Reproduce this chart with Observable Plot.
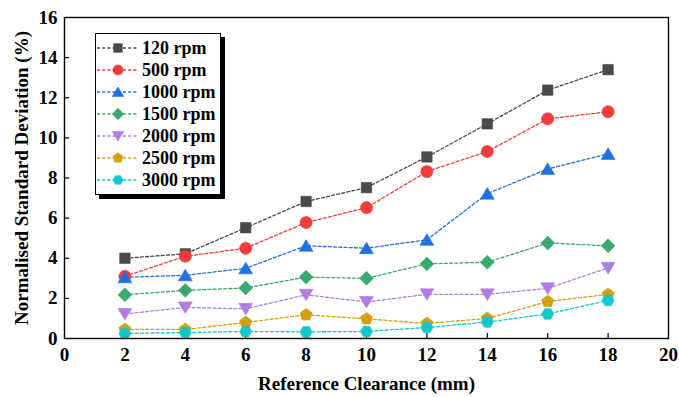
<!DOCTYPE html>
<html><head><meta charset="utf-8">
<script src="https://cdn.jsdelivr.net/npm/d3@7"></script>
<script src="https://cdn.jsdelivr.net/npm/@observablehq/plot@0.6"></script>
<style>
body{margin:0;background:#fff;}
#wrap{position:relative;width:679px;height:397px;}
#legend{position:absolute;left:95px;top:33px;width:124px;height:160px;border:1.5px solid #000;background:#fff;box-shadow:4px 4px 0 #000;}
#legend svg{display:block;}
</style>
</head><body>
<div id="wrap"><div id="legend"></div></div>
<script>
// ---- data ----
const clearance = [2, 4, 6, 8, 10, 12, 14, 16, 18];
const seriesNames = ["120 rpm", "500 rpm", "1000 rpm", "1500 rpm", "2000 rpm", "2500 rpm", "3000 rpm"];
const rpm120  = [4.0, 4.22, 5.52, 6.83, 7.52, 9.05, 10.7, 12.38, 13.4];
const rpm500  = [3.1, 4.1, 4.5, 5.78, 6.52, 8.32, 9.32, 10.95, 11.3];
const rpm1000 = [3.05, 3.15, 3.5, 4.62, 4.5, 4.92, 7.22, 8.45, 9.2];
const rpm1500 = [2.18, 2.4, 2.52, 3.06, 3.0, 3.72, 3.8, 4.76, 4.62];
const rpm2000 = [1.22, 1.55, 1.48, 2.18, 1.82, 2.2, 2.2, 2.5, 3.52];
const rpm2500 = [0.45, 0.45, 0.8, 1.18, 0.98, 0.75, 1.0, 1.84, 2.2];
const rpm3000 = [0.25, 0.3, 0.35, 0.33, 0.35, 0.55, 0.82, 1.22, 1.9];
const seriesValues = [rpm120, rpm500, rpm1000, rpm1500, rpm2000, rpm2500, rpm3000];
const xTicks = [0, 2, 4, 6, 8, 10, 12, 14, 16, 18, 20];
const yTicks = [0, 2, 4, 6, 8, 10, 12, 14, 16];

const colors = ["#4a4a4a", "#f03c3c", "#2070e0", "#3aaa6c", "#b07ee2", "#d4a010", "#10c8cc"];

// ---- custom symbols ----
function poly(ctx, pts){ ctx.moveTo(pts[0][0], pts[0][1]); for (let i=1;i<pts.length;i++) ctx.lineTo(pts[i][0], pts[i][1]); ctx.closePath(); }
function ngon(n, R, rot){ return d3.range(n).map(i => { const a = rot + i*2*Math.PI/n; return [R*Math.sin(a), -R*Math.cos(a)]; }); }
const rOf = size => Math.sqrt(size/Math.PI);
const symSquare = {draw(ctx, size){ const h = rOf(size)*0.9; poly(ctx, [[-h,-h],[h,-h],[h,h],[-h,h]]); }};
const symCircle = {draw(ctx, size){ const r = rOf(size)*1.05; ctx.moveTo(r,0); ctx.arc(0,0,r,0,2*Math.PI); }};
const symTriUp = {draw(ctx, size){ const r = rOf(size); poly(ctx, [[0,-1.05*r],[1.2*r,0.95*r],[-1.2*r,0.95*r]]); }};
const symDiamond = {draw(ctx, size){ const r = rOf(size)*1.2; poly(ctx, [[0,-r],[r,0],[0,r],[-r,0]]); }};
const symTriDown = {draw(ctx, size){ const r = rOf(size); poly(ctx, [[0,1.05*r],[1.2*r,-0.95*r],[-1.2*r,-0.95*r]]); }};
const symPent = {draw(ctx, size){ poly(ctx, ngon(5, rOf(size)*1.1, 0)); }};
const symHex = {draw(ctx, size){ poly(ctx, ngon(6, rOf(size)*1.05, Math.PI/6)); }};
const symbols = [symSquare, symCircle, symTriUp, symDiamond, symTriDown, symPent, symHex];

const table = seriesNames.flatMap((name, si) => clearance.map((x, i) => ({series: name, si, x, y: seriesValues[si][i]})));

const font = "'Liberation Serif', 'Times New Roman', serif";
const marks = [];
seriesNames.forEach((name, si) => {
  const d = table.filter(t => t.si === si);
  marks.push(Plot.line(d, {x: "x", y: "y", stroke: colors[si], strokeWidth: 1.3, strokeDasharray: "3,2.2"}));
});
seriesNames.forEach((name, si) => {
  const d = table.filter(t => t.si === si);
  marks.push(Plot.dot(d, {x: "x", y: "y", symbol: symbols[si], r: 5.8, fill: colors[si], stroke: colors[si], strokeWidth: 0.6}));
});

const chart = Plot.plot({
  width: 679, height: 397,
  marginLeft: 64, marginRight: 11, marginTop: 17, marginBottom: 59,
  style: {fontFamily: font, fontWeight: "bold", fontSize: "19px", color: "#000", background: "#fff"},
  x: {domain: [0, 20]},
  y: {domain: [0, 16]},
  marks: [
    Plot.axisX(xTicks, {tickSize: 0, tickPadding: 9, tickFormat: d => String(d), label: "Reference Clearance (mm)", labelAnchor: "center", labelArrow: "none", labelOffset: 51, fontSize: 19, fontWeight: "bold"}),
    Plot.axisY(yTicks, {tickSize: 0, tickPadding: 7, tickFormat: d => String(d), label: "Normalised Standard Deviation (%)", labelAnchor: "center", labelArrow: "none", labelOffset: 50, fontSize: 19, fontWeight: "bold"}),
    Plot.ruleX(xTicks.slice(1, -1), {y1: 0, y2: 0.25, stroke: "#000", strokeWidth: 1.2}),
    Plot.ruleY(yTicks.slice(1, -1), {x1: 0, x2: 0.17, stroke: "#000", strokeWidth: 1.2}),
    ...marks,
    Plot.frame({stroke: "#000", strokeWidth: 1.4})
  ]
});
document.getElementById("wrap").prepend(chart);

// ---- legend ----
const leg = d3.select("#legend");
seriesNames.forEach((name, si) => {
  const row = leg.append("div").style("display", "flex").style("align-items", "center").style("height", "22px")
    .style("margin-top", si === 0 ? "3px" : "0");
  const svg = row.append("svg").attr("width", 46).attr("height", 22);
  svg.append("line").attr("x1", 1).attr("x2", 42).attr("y1", 11).attr("y2", 11)
    .attr("stroke", colors[si]).attr("stroke-width", 1.3).attr("stroke-dasharray", "3,2.2");
  svg.append("path").attr("transform", "translate(22,11)")
    .attr("d", d3.symbol(symbols[si], 4.8*4.8*Math.PI)())
    .attr("fill", colors[si]).attr("stroke", colors[si]).attr("stroke-width", 0.6);
  row.append("span").text(name).style("font-family", font).style("font-weight", "bold").style("font-size", "18px").style("color", "#000");
});
</script>
</body></html>
